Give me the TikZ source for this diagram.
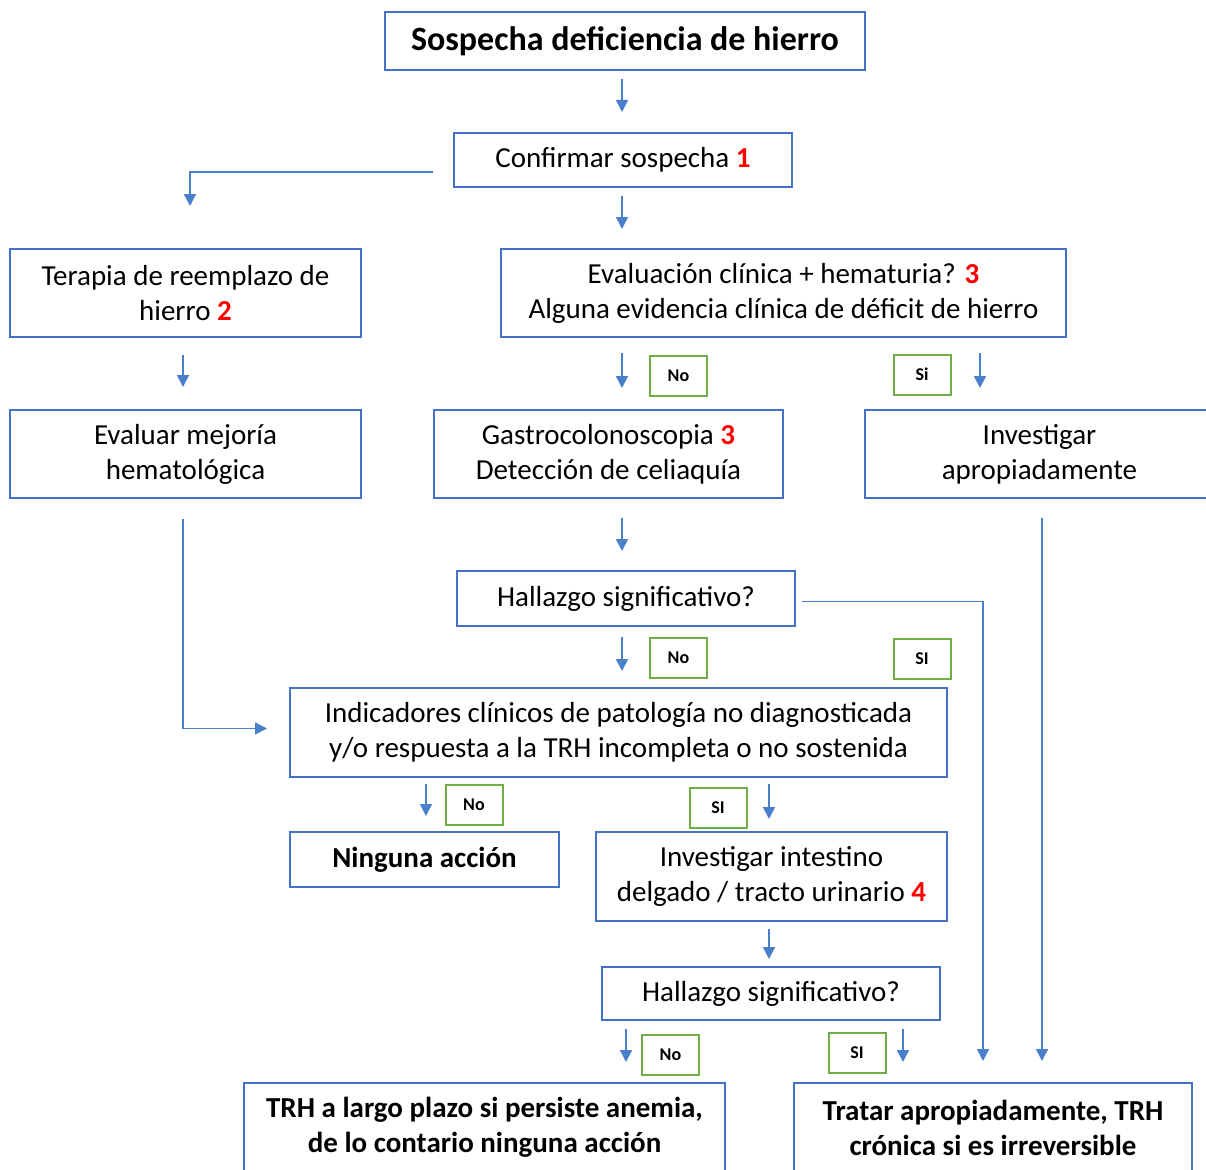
\documentclass[tikz,border=0pt]{standalone}
\usepackage{fontspec}
\setmainfont{Carlito}
\usetikzlibrary{arrows.meta}
\definecolor{boxblue}{HTML}{4472C4}
\definecolor{arrowblue}{HTML}{4A7FCC}
\definecolor{labelgreen}{HTML}{70AD47}
\definecolor{numred}{HTML}{FF0000}
\newcommand{\rednum}[1]{\textcolor{numred}{\textbf{#1}}}
\begin{document}
\begin{tikzpicture}[x=1pt, y=-1pt,
    box/.style={draw=boxblue, line width=2pt, align=center, inner sep=0pt,
      font=\fontsize{29}{35}\selectfont},
    tag/.style={draw=labelgreen, line width=2pt, minimum width=57pt,
      minimum height=40pt, inner sep=0pt, font=\bfseries\fontsize{18}{20}\selectfont},
    arr/.style={draw=arrowblue, line width=1.6pt, -{Triangle[width=12pt,length=12pt]},
      shorten <=8pt, shorten >=20pt}]
    \useasboundingbox (0,0) rectangle (1206,1169);
    % columns of the arrows
    \coordinate (xa) at (622,0);
    \coordinate (xl) at (190,0);
    \coordinate (xc) at (183,0);
    \coordinate (xs) at (980,0);
    \coordinate (xh) at (983,0);
    \coordinate (xi) at (1042,0);
    \coordinate (xd) at (426,0);
    \coordinate (xe) at (769,0);
    \coordinate (xf) at (626,0);
    \coordinate (xg) at (903,0);
    % boxes
    \node[box, minimum width=480pt, minimum height=58pt,
      font=\bfseries\fontsize{34}{40}\selectfont] (top) at (625,41) {Sospecha deficiencia de hierro};
    \node[box, minimum width=338pt, minimum height=54pt] (conf) at (623,160) {Confirmar sospecha \rednum{1}};
    \node[box, minimum width=351pt, minimum height=88pt] (terapia) at (185.5,293) {Terapia de reemplazo de\\hierro \rednum{2}};
    \node[box, minimum width=565pt, minimum height=88pt] (eval) at (783.5,293) {Evaluación clínica + hematuria? \rednum{3}\\Alguna evidencia clínica de déficit de hierro};
    \node[box, minimum width=351pt, minimum height=88pt] (evalmej) at (185.5,454) {Evaluar mejoría\\hematológica};
    \node[box, minimum width=349pt, minimum height=88pt] (gastro) at (608.5,454) {Gastrocolonoscopia \rednum{3}\\Detección de celiaquía};
    \node[box, minimum width=349pt, minimum height=88pt] (invest) at (1039.5,454) {Investigar\\apropiadamente};
    \node[box, minimum width=338pt, minimum height=55pt] (hall1) at (626,598.5) {Hallazgo significativo?};
    \node[box, minimum width=657pt, minimum height=89pt] (indic) at (618.5,732.5) {Indicadores clínicos de patología no diagnosticada\\y/o respuesta a la TRH incompleta o no sostenida};
    \node[box, minimum width=269pt, minimum height=55pt, font=\bfseries\fontsize{29}{35}\selectfont] (ninguna) at (424.5,859.5) {Ninguna acción};
    \node[box, minimum width=351pt, minimum height=89pt] (intest) at (771.5,876.5) {Investigar intestino\\delgado / tracto urinario \rednum{4}};
    \node[box, minimum width=338pt, minimum height=53pt] (hall2) at (771,993.5) {Hallazgo significativo?};
    \node[box, minimum width=481pt, minimum height=89pt, font=\bfseries\fontsize{29}{35}\selectfont] (trh) at (484.5,1127.5) {TRH a largo plazo si persiste anemia,\\de lo contario ninguna acción};
    \node[box, minimum width=398pt, minimum height=89pt, font=\bfseries\fontsize{29}{35}\selectfont] (tratar) at (993,1127.5) {Tratar apropiadamente, TRH\\crónica si es irreversible};
    % answer tags
    \node[tag] (no1) at (678.5,376) {No};
    \node[tag] (si1) at (922,374.5) {Si};
    \node[tag] (no2) at (678.5,657.5) {No};
    \node[tag] (si2) at (922,658.5) {SI};
    \node[tag] (no3) at (474,804.5) {No};
    \node[tag] (si3) at (718,807.5) {SI};
    \node[tag] (no4) at (670.5,1055) {No};
    \node[tag] (si4) at (857,1053) {SI};
    % arrows
    \draw[arr] (top.south -| xa) -- (conf.north -| xa);
    \draw[arr, shorten <=0pt, shorten >=42pt] (conf.west) ++(-20,12) -| (terapia.north -| xl);
    \draw[arr, shorten >=19pt] (conf.south -| xa) -- (eval.north -| xa);
    \draw[arr, shorten <=17pt, shorten >=22pt] (terapia.south -| xc) -- (evalmej.north -| xc);
    \draw[arr, shorten <=15pt, shorten >=21pt] (eval.south -| xa) -- (gastro.north -| xa);
    \draw[arr, shorten <=15pt, shorten >=21pt] (eval.south -| xs) -- (invest.north -| xs);
    \draw[arr, shorten <=19pt, shorten >=19pt] (gastro.south -| xa) -- (hall1.north -| xa);
    \draw[arr, shorten <=0pt, shorten >=22pt] (evalmej.south -| xc) ++(0,20) |- ([yshift=4pt]indic.west);
    \draw[arr, shorten <=0pt, shorten >=21pt] (hall1.east) ++(6,3) -| (tratar.north -| xh);
    \draw[arr, shorten <=10pt, shorten >=16pt] (hall1.south -| xa) -- (indic.north -| xa);
    \draw[arr, shorten <=19pt, shorten >=21pt] (invest.south -| xi) -- (tratar.north -| xi);
    \draw[arr, shorten <=6pt, shorten >=15pt] (indic.south -| xd) -- (ninguna.north -| xd);
    \draw[arr, shorten <=6pt, shorten >=12pt] (indic.south -| xe) -- (intest.north -| xe);
    \draw[arr, shorten <=7pt, shorten >=7pt] (intest.south -| xe) -- (hall2.north -| xe);
    \draw[arr] (hall2.south -| xf) -- (trh.north -| xf);
    \draw[arr] (hall2.south -| xg) -- (tratar.north -| xg);
\end{tikzpicture}
\end{document}
